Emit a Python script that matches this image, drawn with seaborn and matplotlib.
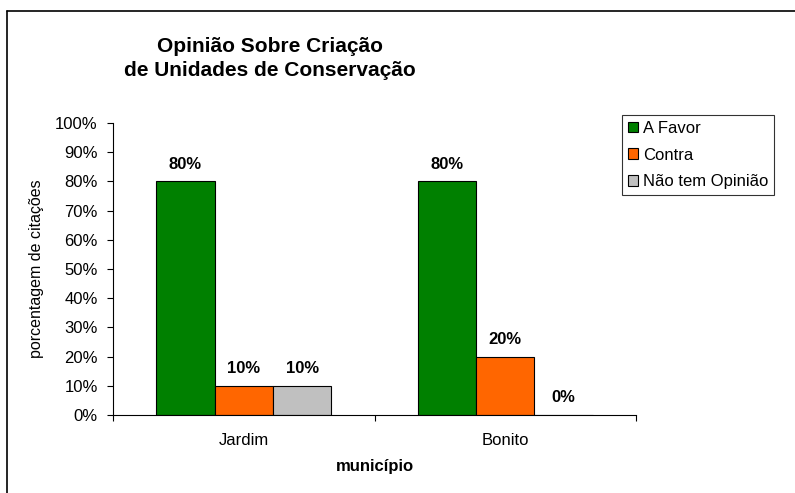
import pandas as pd
import seaborn as sns
import matplotlib.pyplot as plt
from matplotlib.lines import Line2D
from matplotlib.ticker import PercentFormatter, FixedLocator

# dados
municipios = ['Jardim', 'Bonito']
opinioes = ['A Favor', 'Contra', 'Não tem Opinião']
a_favor = [0.80, 0.80]
contra = [0.10, 0.20]
sem_opiniao = [0.10, 0.00]
cores = ['#008000', '#FF6600', '#C0C0C0']

rows = []
for serie, vals in zip(opinioes, [a_favor, contra, sem_opiniao]):
    for m, v in zip(municipios, vals):
        rows.append({'municipio': m, 'opiniao': serie, 'valor': v})
df = pd.DataFrame(rows)

sns.set_style('ticks')
plt.rcParams['font.family'] = ['Liberation Sans', 'DejaVu Sans']
for k in ['text.color', 'axes.labelcolor', 'xtick.color', 'ytick.color']:
    plt.rcParams[k] = 'black'

fig = plt.figure(figsize=(7.95, 4.93), dpi=100)
ax = fig.add_axes([113/795, 1 - 415/493, (636 - 113)/795, (415 - 123)/493])

sns.barplot(data=df, x='municipio', y='valor', hue='opiniao', hue_order=opinioes,
            palette=cores, edgecolor='black', linewidth=0.8, width=0.67,
            saturation=1, ax=ax)

for cont, vals in zip(ax.containers, [a_favor, contra, sem_opiniao]):
    ax.bar_label(cont, labels=[f'{v*100:.0f}%' for v in vals], padding=7,
                 fontsize=12, fontweight='bold')

ax.set_ylim(0, 1.0)
ax.set_xlim(-0.5, 1.5)
ax.yaxis.set_major_locator(FixedLocator([i/10 for i in range(11)]))
ax.yaxis.set_major_formatter(PercentFormatter(1.0, decimals=0))
ax.tick_params(axis='y', labelsize=12, length=4, width=0.8, direction='out', pad=7)

# ticks entre as categorias, rotulos no centro
ax.set_xticks([-0.5, 0.5, 1.5])
ax.set_xticklabels(['', '', ''])
ax.set_xticks([0, 1], minor=True)
ax.set_xticklabels(municipios, minor=True)
ax.tick_params(axis='x', which='major', length=4, width=0.8, direction='out')
ax.tick_params(axis='x', which='minor', length=0, labelsize=12, pad=13)

for s in ['top', 'right']:
    ax.spines[s].set_visible(False)
for s in ['left', 'bottom']:
    ax.spines[s].set_linewidth(0.8)
    ax.spines[s].set_color('black')

ax.set_xlabel('município', fontsize=12, fontweight='bold')
ax.xaxis.set_label_coords(0.5, (415 - 459) / 292)
ax.set_ylabel('porcentagem de citações', fontsize=11.5)
ax.yaxis.set_label_coords((44 - 113) / 523, 0.5)

handles, labels = ax.get_legend_handles_labels()
ax.legend_.remove()
leg = fig.legend(handles, labels, loc='upper left', bbox_to_anchor=(622/795, 1 - 115/493),
                 fontsize=12, frameon=True, fancybox=False, edgecolor='black',
                 handlelength=0.6, handleheight=0.6, handletextpad=0.3,
                 labelspacing=0.7, borderpad=0.35, borderaxespad=0)
leg.get_frame().set_linewidth(0.8)

fig.text(270/795, 1 - 58.5/493, 'Opinião Sobre Criação\nde Unidades de Conservação',
         ha='center', va='center', fontsize=15, fontweight='bold', linespacing=1.3)

# moldura externa (so topo e esquerda visiveis)
fig.add_artist(Line2D([7/795, 1], [1 - 11/493, 1 - 11/493], color='black', lw=1.2))
fig.add_artist(Line2D([7/795, 7/795], [0, 1 - 11/493], color='black', lw=1.2))

fig.savefig('out.png', dpi=100)
